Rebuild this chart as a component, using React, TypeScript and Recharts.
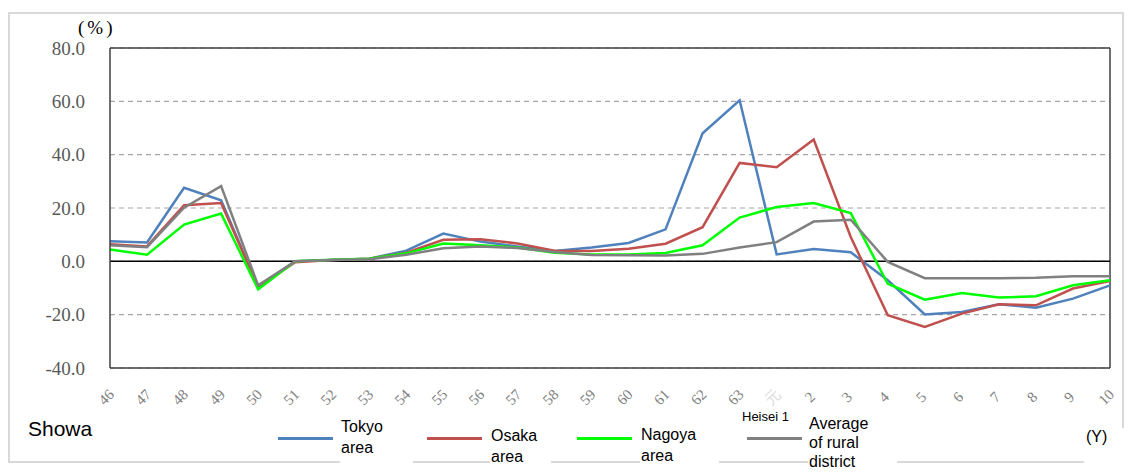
import React from 'react';
import { LineChart, Line, XAxis, YAxis, CartesianGrid, ReferenceLine } from 'recharts';

// fiscal years: Showa 46..63, Heisei 1..10
const years = ['46', '47', '48', '49', '50', '51', '52', '53', '54', '55', '56', '57', '58', '59', '60', '61', '62', '63', '元', '2', '3', '4', '5', '6', '7', '8', '9', '10'];

const tokyo = [7.5, 7.1, 27.6, 22.9, -9.6, 0, 0.5, 1.0, 4.0, 10.4, 7.4, 5.6, 3.9, 5.2, 6.9, 12.0, 48.0, 60.4, 2.6, 4.6, 3.4, -7.1, -19.9, -19.0, -16.1, -17.4, -14.0, -9.0];
const osaka = [6.4, 5.6, 21.0, 21.9, -9.6, -0.3, 0.5, 1.0, 3.2, 8.1, 8.3, 6.7, 4.0, 3.9, 4.7, 6.6, 12.8, 36.9, 35.3, 45.7, 9.1, -20.2, -24.6, -19.6, -16.1, -16.5, -10.2, -7.4];
const nagoya = [4.4, 2.5, 13.8, 17.9, -10.5, 0, 0.6, 1.0, 3.0, 6.7, 6.0, 5.2, 3.2, 2.6, 2.6, 3.1, 6.0, 16.4, 20.4, 21.9, 18.1, -8.4, -14.4, -11.9, -13.6, -13.1, -9.0, -7.1];
const rural = [6.0, 5.3, 20.1, 28.2, -9.0, 0, 0.5, 0.8, 2.5, 4.9, 5.6, 5.0, 3.5, 2.4, 2.3, 2.2, 2.8, 5.2, 7.2, 14.9, 15.6, -0.2, -6.3, -6.3, -6.3, -6.2, -5.6, -5.6];

const yTicks = [-40, -20, 0, 20, 40, 60, 80];

const data = years.map((y, i) => ({
  year: y,
  tokyo: tokyo[i],
  osaka: osaka[i],
  nagoya: nagoya[i],
  rural: rural[i],
}));

const serif = '"Liberation Serif", "DejaVu Serif", serif';
const sans = '"Liberation Sans", Arial, sans-serif';

const XTick = (props: any) => {
  const { x, y, payload } = props;
  const faint = payload.value === '元';
  return (
    <g transform={`translate(${x - 4},${y + 21}) rotate(-45)`}>
      <text textAnchor="middle" dy="0.35em" fontFamily={serif} fontSize={15} fill="#7f7f7f" opacity={faint ? 0.3 : 1}>
        {payload.value}
      </text>
    </g>
  );
};

const YTick = (props: any) => {
  const { x, y, payload } = props;
  return (
    <text x={x - 17} y={y} dy="0.35em" textAnchor="end" fontFamily={serif} fontSize={19} fill="#595959">
      {payload.value.toFixed(1)}
    </text>
  );
};

const legendItems = [
  { name: ['Tokyo', 'area'], color: '#4f81bd', lineX: 278, textX: 341, textY: 416, boxW: 72 },
  { name: ['Osaka', 'area'], color: '#c0504d', lineX: 427, textX: 491, textY: 425, boxW: 60 },
  { name: ['Nagoya', 'area'], color: '#00ff00', lineX: 577, textX: 641, textY: 424, boxW: 78 },
  { name: ['Average', 'of rural', 'district'], color: '#808080', lineX: 747, textX: 809, textY: 414, boxW: 88 },
];

export default function App() {
  return (
    <div style={{ position: 'absolute', left: 0, top: 0, width: 1130, height: 472, background: '#fff', overflow: 'hidden' }}>
      <div style={{ position: 'absolute', left: 8, top: 12, width: 1112, height: 447, border: '2px solid #d9d9d9' }} />
      <div style={{ position: 'absolute', left: 0, top: 0 }}>
        <LineChart width={1130} height={472} data={data} margin={{ top: 48, right: 20, left: 0, bottom: 0 }}>
          <CartesianGrid vertical={false} stroke="#a6a6a6" strokeDasharray="5 4" strokeWidth={1.2} />
          <XAxis dataKey="year" height={104} tick={<XTick />} tickLine={false} axisLine={{ stroke: '#404040', strokeWidth: 1.5 }} interval={0} />
          <YAxis width={110} domain={[-40, 80]} ticks={yTicks} tick={<YTick />} tickLine={false} axisLine={{ stroke: '#404040', strokeWidth: 1.5 }} />
          <ReferenceLine y={80} stroke="#404040" strokeWidth={1.5} />
          <ReferenceLine x="10" stroke="#404040" strokeWidth={1.5} />
          <ReferenceLine y={0} stroke="#000" strokeWidth={1.5} />
          <Line type="linear" dataKey="tokyo" stroke="#4f81bd" strokeWidth={2.5} dot={false} isAnimationActive={false} />
          <Line type="linear" dataKey="osaka" stroke="#c0504d" strokeWidth={2.5} dot={false} isAnimationActive={false} />
          <Line type="linear" dataKey="nagoya" stroke="#00ff00" strokeWidth={2.5} dot={false} isAnimationActive={false} />
          <Line type="linear" dataKey="rural" stroke="#808080" strokeWidth={2.5} dot={false} isAnimationActive={false} />
        </LineChart>
      </div>
      <div style={{ position: 'absolute', left: 78, top: 17, fontFamily: serif, fontSize: 19, letterSpacing: 3, color: '#000' }}>(%)</div>
      <div style={{ position: 'absolute', left: 28, top: 417, fontFamily: sans, fontSize: 21, color: '#000' }}>Showa</div>
      {legendItems.map((it) => (
        <React.Fragment key={it.name[0]}>
          <div style={{ position: 'absolute', left: it.lineX, top: 437, width: 55, height: 3, background: it.color }} />
          <div
            style={{
              position: 'absolute',
              left: it.textX - 1,
              top: it.textY,
              width: it.boxW,
              height: 80,
              background: '#fff',
              paddingLeft: 1,
              fontFamily: sans,
              fontSize: 16,
              lineHeight: it.name.length > 2 ? '19px' : '21px',
              color: '#000',
            }}
          >
            {it.name.map((n) => (
              <div key={n}>{n}</div>
            ))}
          </div>
        </React.Fragment>
      ))}
      <div style={{ position: 'absolute', left: 741, top: 409, fontFamily: sans, fontSize: 13, color: '#000', background: '#fff', padding: '0 1px' }}>Heisei 1</div>
      <div style={{ position: 'absolute', left: 1084, top: 428, width: 46, height: 44, background: '#fff', fontFamily: sans, fontSize: 16, color: '#000', paddingLeft: 2 }}>(Y)</div>
    </div>
  );
}
